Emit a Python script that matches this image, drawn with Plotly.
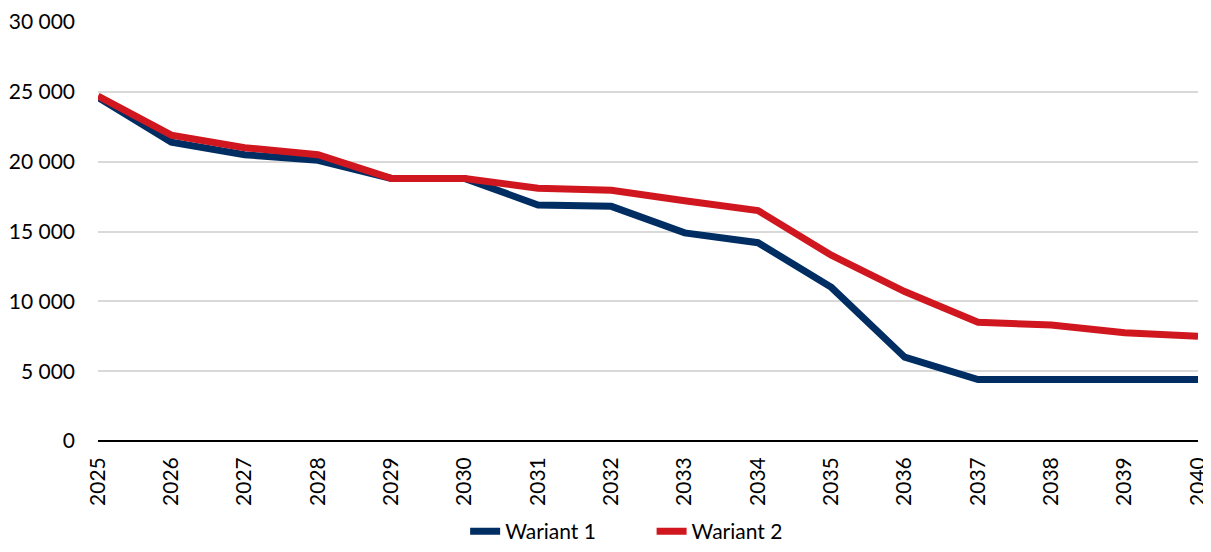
import plotly.graph_objects as go

years = list(range(2025, 2041))
wariant_1 = [24600, 21400, 20500, 20100, 18800, 18800, 16900, 16800, 14900, 14200, 11000, 6000, 4400, 4400, 4400, 4400]
wariant_2 = [24700, 21900, 21000, 20500, 18800, 18800, 18100, 17950, 17200, 16500, 13300, 10700, 8500, 8300, 7750, 7500]
y_ticks = [0, 5000, 10000, 15000, 20000, 25000, 30000]

font_family = "Lato, Liberation Sans, Arial, sans-serif"
FS = 21

fig = go.Figure()
fig.add_trace(go.Scatter(x=years, y=wariant_1, mode="lines", name="Wariant 1",
                         legend="legend",
                         line=dict(color="#002D62", width=7, shape="linear")))
fig.add_trace(go.Scatter(x=years, y=wariant_2, mode="lines", name="Wariant 2",
                         legend="legend2",
                         line=dict(color="#D0171F", width=7, shape="linear")))

leg_common = dict(orientation="h", xref="container", yref="container",
                  xanchor="left", y=0.0, yanchor="bottom",
                  font=dict(size=FS), bgcolor="rgba(0,0,0,0)")

fig.update_layout(
    width=1203, height=544,
    margin=dict(l=90, r=13, t=14, b=111),
    paper_bgcolor="white", plot_bgcolor="white",
    separators=", ",
    font=dict(family=font_family, size=FS, color="#000000"),
    showlegend=True,
    legend=dict(x=0.38, **leg_common),
    legend2=dict(x=0.535, **leg_common),
    xaxis=dict(range=[2025, 2040], tickmode="array", tickvals=years,
               ticktext=[str(y) for y in years], tickangle=-90,
               showgrid=False, zeroline=False, showline=False, ticks="",
               automargin=False, ticklabelstandoff=11,
               tickfont=dict(size=FS)),
    yaxis=dict(range=[0, 30000], tickmode="array", tickvals=y_ticks,
               tickformat=",d", showgrid=True, gridcolor="#D9D9D9", gridwidth=1.5,
               zeroline=True, zerolinecolor="#000000", zerolinewidth=2,
               showline=False, ticks="", ticklabelstandoff=22, automargin=False,
               tickfont=dict(size=FS)),
)

fig.write_html("out.html")
